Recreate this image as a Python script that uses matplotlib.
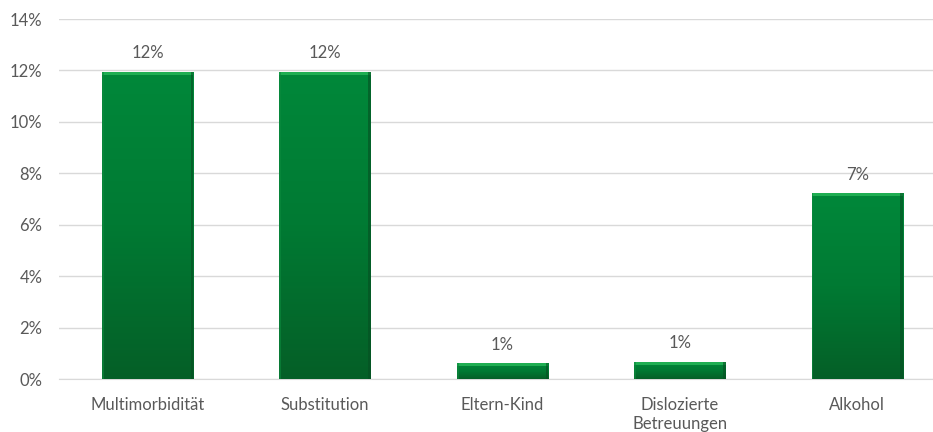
import matplotlib
matplotlib.use("Agg")
import matplotlib.pyplot as plt
import numpy as np
from matplotlib.colors import LinearSegmentedColormap
from matplotlib.patches import Rectangle

categories = ["Multimorbidität", "Substitution", "Eltern-Kind", "Dislozierte\nBetreuungen", "Alkohol"]
values = [11.95, 11.95, 0.62, 0.68, 7.23]
labels = ["12%", "12%", "1%", "1%", "7%"]
yticks = [0, 2, 4, 6, 8, 10, 12, 14]

plt.rcParams['font.family'] = ['Lato', 'DejaVu Sans']
txt = "#595959"
fs = 12

fig = plt.figure(figsize=(9.33, 4.32), dpi=100)
ax = fig.add_axes([59/933, 1 - 379/432, 1 - 59/933, 360/432])
x = np.arange(len(categories))
width = 0.515

cmap = LinearSegmentedColormap.from_list("g", ["#055f27", "#007a33", "#00883a"])
grad = np.linspace(0, 1, 256).reshape(-1, 1)
for xi, v in zip(x, values):
    l, r = xi - width / 2, xi + width / 2
    bars = ax.bar(xi, v, width=width, color="none", edgecolor="none", zorder=3)
    im = ax.imshow(grad, cmap=cmap, aspect="auto", origin="lower",
                   extent=[l, r, 0, v], zorder=3)
    im.set_clip_path(bars[0])
    bevel = min(0.13, v * 0.2)
    ax.add_patch(Rectangle((l, v - bevel), r - l, bevel, facecolor="#1fae52",
                           edgecolor="none", zorder=4))
    ax.add_patch(Rectangle((r - 0.014, 0), 0.014, v, facecolor="#064f22",
                           edgecolor="none", zorder=4, alpha=0.6))
    ax.add_patch(Rectangle((l, 0), 0.01, v, facecolor="#0d8a3e",
                           edgecolor="none", zorder=4, alpha=0.6))
for xi, v, lab in zip(x, values, labels):
    ax.text(xi, v + 0.4, lab, ha="center", va="bottom", fontsize=fs, color=txt)

ax.set_xlim(-0.5, 4.5 - 13/177.5)
ax.set_ylim(0, 14)
ax.set_yticks(yticks)
ax.set_yticklabels([f"{t}%" for t in yticks], fontsize=fs, color=txt)
ax.set_xticks(x)
ax.set_xticklabels(categories, fontsize=fs, color=txt, linespacing=1.25)
ax.grid(axis="y", color="#d9d9d9", linewidth=1, zorder=0)
ax.set_axisbelow(True)
for s in ["top", "right", "left"]:
    ax.spines[s].set_visible(False)
ax.spines["bottom"].set_color("#d9d9d9")
ax.tick_params(axis="both", length=0)
ax.tick_params(axis="y", pad=12)
ax.tick_params(axis="x", pad=13)

fig.savefig("out.png", dpi=100)
